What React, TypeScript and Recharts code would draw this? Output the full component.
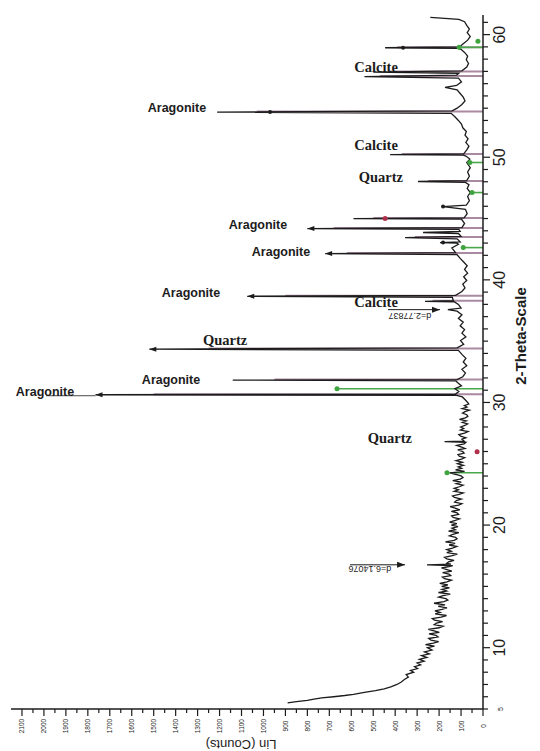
import { LineChart, Line, XAxis, YAxis, ReferenceLine, ReferenceDot } from 'recharts';

// 2-theta scan, low angle part (steep background)
const lowTheta = [5.5, 5.6, 5.7, 5.8, 5.9, 6.0, 6.1, 6.2, 6.35, 6.5, 6.65, 6.8, 7.0, 7.2, 7.4, 7.6, 7.8, 8.0, 8.15, 8.3, 8.45, 8.6, 8.75, 8.9, 9.05, 9.2, 9.35, 9.5, 9.65, 9.8];
const lowCounts = [890, 850, 800, 770, 735, 680, 630, 590, 540, 490, 450, 420, 392, 372, 358, 340, 350, 316, 330, 298, 312, 284, 300, 268, 290, 256, 280, 244, 266, 232];

// 10 - 30 degrees, noisy amorphous background
const midTheta = [
  10, 10.125, 10.25, 10.375, 10.5, 10.625, 10.75, 10.875,
  11, 11.125, 11.25, 11.375, 11.5, 11.625, 11.75, 11.875,
  12, 12.125, 12.25, 12.375, 12.5, 12.625, 12.75, 12.875,
  13, 13.125, 13.25, 13.375, 13.5, 13.625, 13.75, 13.875,
  14, 14.125, 14.25, 14.375, 14.5, 14.625, 14.75, 14.875,
  15, 15.125, 15.25, 15.375, 15.5, 15.625, 15.75, 15.875,
  16, 16.125, 16.25, 16.375, 16.5, 16.625, 16.7, 16.76, 16.82, 16.875,
  17, 17.125, 17.25, 17.375, 17.5, 17.625, 17.75, 17.875,
  18, 18.125, 18.25, 18.375, 18.5, 18.625, 18.75, 18.875,
  19, 19.125, 19.25, 19.375, 19.5, 19.625, 19.75, 19.875,
  20, 20.125, 20.25, 20.375, 20.5, 20.625, 20.75, 20.875,
  21, 21.125, 21.25, 21.375, 21.5, 21.625, 21.75, 21.875,
  22, 22.125, 22.25, 22.375, 22.5, 22.625, 22.75, 22.875,
  23, 23.125, 23.25, 23.375, 23.5, 23.625, 23.75, 23.875,
  24, 24.125, 24.25, 24.375, 24.5, 24.625, 24.75, 24.875,
  25, 25.125, 25.25, 25.375, 25.5, 25.625, 25.75, 25.875,
  26, 26.125, 26.25, 26.375, 26.5, 26.625, 26.75, 26.8, 26.85,
  27, 27.125, 27.25, 27.375, 27.5, 27.625, 27.75, 27.875,
  28, 28.125, 28.25, 28.375, 28.5, 28.625, 28.75, 28.875,
  29, 29.125, 29.25, 29.375, 29.5, 29.625, 29.75, 29.875,
  30,
];
const midCounts = [
  253, 221, 262, 226, 202, 237, 247, 205,
  214, 246, 199, 223, 249, 200, 182, 222,
  212, 184, 221, 231, 191, 166, 218, 195,
  219, 187, 164, 204, 173, 223, 178, 160,
  169, 202, 182, 149, 203, 166, 187, 153,
  188, 160, 197, 164, 144, 175, 185, 147,
  155, 184, 142, 164, 189, 150, 138, 255, 146, 165,
  157, 132, 165, 175, 140, 117, 165, 144,
  165, 139, 120, 154, 127, 171, 132, 118,
  125, 153, 137, 110, 157, 126, 141, 114,
  144, 119, 152, 126, 107, 136, 143, 111,
  118, 144, 106, 127, 150, 111, 96, 129,
  121, 99, 130, 139, 109, 90, 131, 112,
  131, 108, 91, 122, 99, 138, 104, 91,
  98, 122, 150, 84, 125, 97, 113, 89,
  116, 94, 123, 98, 83, 108, 114, 86,
  92, 115, 82, 100, 120, 86, 78, 175, 86,
  96, 78, 102, 110, 84, 68, 103, 88,
  102, 83, 70, 94, 76, 107, 80, 69,
  74, 93, 82, 62, 95, 73, 85, 65,
  70,
];

// 30 - 61.4 degrees, the crystalline peaks
const highTheta = [
  30.2, 30.45, 30.58, 30.63, 30.68, 30.9, 31.12, 31.35, 31.6, 31.77,
  31.82, 31.87, 32.1, 32.4, 32.7, 33.0, 33.3, 33.6, 33.9, 34.25,
  34.35, 34.45, 34.75, 35.05, 35.35, 35.65, 35.95, 36.25, 36.55, 36.85,
  37.15, 37.45, 37.57, 37.7, 38.0, 38.2, 38.25, 38.3, 38.58, 38.66,
  38.74, 39.05, 39.35, 39.65, 39.95, 40.25, 40.55, 40.85, 41.15, 41.45,
  41.75, 42.05, 42.14, 42.22, 42.6, 42.9, 43.0, 43.04, 43.1, 43.35,
  43.45, 43.55, 43.78, 43.86, 43.95, 44.12, 44.18, 44.26, 44.6, 44.9,
  44.96, 45.0, 45.06, 45.4, 45.75, 45.98, 46.1, 46.45, 46.8, 47.12,
  47.45, 47.75, 47.95, 48.02, 48.1, 48.45, 48.8, 49.15, 49.57, 49.85,
  50.1, 50.17, 50.22, 50.28, 50.6, 50.9, 51.2, 51.5, 51.8, 52.1,
  52.4, 52.7, 53.0, 53.3, 53.58, 53.68, 53.78, 54.0, 54.3, 54.6,
  54.9, 55.2, 55.5, 55.69, 55.85, 56.15, 56.45, 56.57, 56.7, 56.85,
  56.94, 57.05, 57.35, 57.65, 57.95, 58.25, 58.55, 58.8, 58.88, 58.93,
  58.99, 59.25, 59.55, 59.85, 60.15, 60.45, 60.75, 61.05, 61.25, 61.4,
];
const highCounts = [
  80, 94, 120, 1765, 125, 110, 128, 98, 115, 125,
  1140, 118, 92, 80, 96, 74, 90, 78, 95, 112,
  1520, 118, 88, 102, 78, 96, 84, 104, 90, 112,
  96, 118, 160, 100, 112, 130, 264, 135, 140, 1074,
  125, 96, 82, 92, 74, 88, 70, 84, 72, 88,
  104, 118, 719, 125, 142, 112, 120, 196, 104, 118,
  355, 100, 112, 273, 104, 110, 800, 96, 84, 96,
  100, 590, 86, 72, 80, 182, 76, 62, 70, 58,
  72, 64, 80, 296, 74, 62, 70, 58, 74, 60,
  78, 90, 423, 88, 74, 64, 78, 68, 82, 76,
  92, 98, 112, 128, 145, 1211, 140, 118, 96, 82,
  90, 104, 118, 173, 120, 98, 112, 540, 120, 110,
  500, 96, 74, 66, 76, 70, 84, 100, 112, 446,
  108, 90, 70, 58, 72, 62, 74, 84, 110, 240,
];

// reference pattern sticks
const pinkStickTheta = [30.68, 31.87, 34.4, 38.3, 38.71, 42.19, 43.5, 44.23, 45.05, 48.07, 50.27, 53.73, 56.62, 56.99, 58.98];
const pinkStickCounts = [1500, 950, 1250, 230, 900, 620, 310, 680, 500, 250, 370, 1030, 470, 430, 390];
const greenStickTheta = [24.27, 31.12, 42.63, 47.12, 49.57, 58.96];
const greenStickCounts = [164, 665, 90, 50, 60, 109];
const greenDotTheta = [24.27, 31.12, 42.63, 47.12, 49.57, 58.96, 59.45];
const greenDotCounts = [164, 665, 90, 50, 60, 109, 23];
const redDotTheta = [45.0, 25.98];
const redDotCounts = [446, 27];
const darkDotTheta = [58.93, 53.68, 45.98, 43.04];
const darkDotCounts = [364, 970, 182, 182];
const tipTheta = [30.63, 44.18, 42.14, 38.66, 34.35];
const tipCounts = [1765, 800, 719, 1074, 1520];

// phase names and where they sit (text centre, in data units)
const phaseNames = ['Calcite', 'Aragonite', 'Calcite', 'Quartz', 'Aragonite', 'Aragonite', 'Aragonite', 'Calcite', 'Quartz', 'Aragonite', 'Aragonite', 'Quartz'];
const phaseTheta = [57.33, 53.98, 50.96, 48.35, 44.51, 42.31, 38.96, 38.22, 35.12, 31.86, 30.88, 27.12];
const phaseCounts = [487, 1394, 487, 465, 1025, 920, 1330, 487, 1175, 1421, 1995, 424];

// d-spacing notes
const dNotes = ['d=2.77837', 'd=6.14076'];
const dTextTheta = [37.08, 16.43];
const dTextCounts = [333, 515];
const dArrowTheta = [37.57, 16.76];
const dArrowFrom = [433, 606];
const dArrowTo = [196, 355];

const countTicks = Array.from({ length: 43 }, (_, i) => i * 50);
const thetaTicks = Array.from({ length: 57 }, (_, i) => i + 5);

const scanTheta = [...lowTheta, ...midTheta, ...highTheta];
const scanCounts = [...lowCounts, ...midCounts, ...highCounts];
const scan = scanTheta.map((t, i) => ({ theta: t, counts: scanCounts[i] }));

const SANS = 'Liberation Sans, Arial, sans-serif';
const SERIF = 'Liberation Serif, Times New Roman, serif';
const INK = '#1c1c1c';

function CountTick(props: any) {
  const { x, y, payload } = props;
  const v = payload.value;
  const major = v % 100 === 0;
  const ty = y + 17;
  return (
    <g>
      <line x1={x} x2={x} y1={y} y2={y + (major ? 7 : 4)} stroke={INK} strokeWidth={1.2} />
      {major && (
        <text x={x} y={ty} transform={`rotate(-90 ${x} ${ty})`} textAnchor="middle" dominantBaseline="central" fontSize={6.5} fontFamily={SANS} fill={INK}>
          {v}
        </text>
      )}
    </g>
  );
}

function ThetaTick(props: any) {
  const { x, y, payload } = props;
  const v = payload.value;
  const major = v % 10 === 0;
  const tx = x + 17;
  return (
    <g>
      <line x1={x} x2={x + (major ? 7 : 5)} y1={y} y2={y} stroke={INK} strokeWidth={1.2} />
      {(major || v === 5) && (
        <text x={tx} y={y} transform={`rotate(-90 ${tx} ${y})`} textAnchor="middle" dominantBaseline="central" fontSize={v === 5 ? 7 : 16} fontFamily={SANS} fill={INK}>
          {v}
        </text>
      )}
    </g>
  );
}

function CountsTitle(props: any) {
  const vb = props.viewBox || { x: 11, y: 709, width: 472, height: 42 };
  const cx = vb.x + vb.width / 2 - 6;
  const cy = vb.y + 35;
  return (
    <text x={cx} y={cy} transform={`rotate(180 ${cx} ${cy})`} textAnchor="middle" dominantBaseline="central" fontSize={13} fontFamily={SANS} fill={INK}>
      Lin (Counts)
    </text>
  );
}

function ThetaTitle(props: any) {
  const vb = props.viewBox || { x: 483, y: 15, width: 57, height: 694 };
  const cx = vb.x + 37;
  const cy = vb.y + vb.height / 2 - 26;
  return (
    <text x={cx} y={cy} transform={`rotate(-90 ${cx} ${cy})`} textAnchor="middle" dominantBaseline="central" fontSize={15} fontWeight="bold" fontFamily={SANS} fill={INK}>
      2-Theta-Scale
    </text>
  );
}

export default function App() {
  return (
    <div style={{ position: 'absolute', left: 0, top: 0, width: 540, height: 751, background: '#fff' }}>
      <LineChart layout="vertical" width={540} height={751} data={scan} margin={{ top: 15, right: 0, bottom: 0, left: 11 }}>
        <XAxis
          type="number"
          dataKey="counts"
          domain={[0, 2150]}
          reversed
          ticks={countTicks}
          interval={0}
          tickSize={0}
          tickMargin={0}
          tickLine={false}
          tick={<CountTick />}
          height={42}
          axisLine={{ stroke: INK, strokeWidth: 1.5 }}
          label={<CountsTitle />}
        />
        <YAxis
          type="number"
          dataKey="theta"
          orientation="right"
          domain={[5, 61.6]}
          reversed
          ticks={thetaTicks}
          interval={0}
          tickSize={0}
          tickMargin={0}
          tickLine={false}
          tick={<ThetaTick />}
          width={57}
          axisLine={{ stroke: INK, strokeWidth: 1.5 }}
          label={<ThetaTitle />}
        />

        {pinkStickTheta.map((t, i) => (
          <ReferenceLine key={`p${i}`} segment={[{ x: 0, y: t }, { x: pinkStickCounts[i], y: t }]} stroke="#a98aa0" strokeWidth={2} />
        ))}
        {greenStickTheta.map((t, i) => (
          <ReferenceLine key={`g${i}`} segment={[{ x: 0, y: t }, { x: greenStickCounts[i], y: t }]} stroke="#4aa84a" strokeWidth={1.6} />
        ))}

        <Line type="linear" dataKey="counts" stroke={INK} strokeWidth={1.3} dot={false} isAnimationActive={false} />

        {greenDotTheta.map((t, i) => (
          <ReferenceDot key={`gd${i}`} x={greenDotCounts[i]} y={t} r={2.5} fill="#3fa33f" stroke="none" />
        ))}
        {redDotTheta.map((t, i) => (
          <ReferenceDot key={`rd${i}`} x={redDotCounts[i]} y={t} r={2.5} fill="#b0304a" stroke="none" />
        ))}
        {darkDotTheta.map((t, i) => (
          <ReferenceDot key={`dd${i}`} x={darkDotCounts[i]} y={t} r={2} fill={INK} stroke="none" />
        ))}
        {tipTheta.map((t, i) => (
          <ReferenceDot
            key={`tip${i}`}
            x={tipCounts[i]}
            y={t}
            r={3}
            shape={(p: any) => <path d={`M${p.cx} ${p.cy} L${p.cx + 7} ${p.cy - 2.5} L${p.cx + 7} ${p.cy + 2.5} Z`} fill={INK} />}
          />
        ))}

        {/* leader under the leftmost Aragonite label */}
        <ReferenceLine segment={[{ x: 1765, y: 30.55 }, { x: 1990, y: 30.55 }]} stroke={INK} strokeWidth={0.8} />

        {dNotes.map((n, i) => (
          <ReferenceLine key={`da${i}`} segment={[{ x: dArrowFrom[i], y: dArrowTheta[i] }, { x: dArrowTo[i], y: dArrowTheta[i] }]} stroke={INK} strokeWidth={1} />
        ))}
        {dNotes.map((n, i) => (
          <ReferenceDot
            key={`dh${i}`}
            x={dArrowTo[i]}
            y={dArrowTheta[i]}
            r={3}
            shape={(p: any) => <path d={`M${p.cx} ${p.cy} L${p.cx - 8} ${p.cy - 3} L${p.cx - 8} ${p.cy + 3} Z`} fill={INK} />}
          />
        ))}
        {dNotes.map((n, i) => (
          <ReferenceDot
            key={`dt${i}`}
            x={dTextCounts[i]}
            y={dTextTheta[i]}
            r={1}
            shape={(p: any) => (
              <text x={p.cx} y={p.cy} transform={`rotate(180 ${p.cx} ${p.cy})`} textAnchor="middle" dominantBaseline="central" fontSize={9} fontFamily={SANS} fill={INK}>
                {n}
              </text>
            )}
          />
        ))}

        {phaseNames.map((name, i) => (
          <ReferenceDot
            key={`ph${i}`}
            x={phaseCounts[i]}
            y={phaseTheta[i]}
            r={1}
            shape={(p: any) => (
              <text
                x={p.cx}
                y={p.cy}
                textAnchor="middle"
                dominantBaseline="central"
                fontSize={name === 'Aragonite' ? 12.5 : 14.5}
                fontWeight="bold"
                fontFamily={name === 'Aragonite' ? SANS : SERIF}
                fill={INK}
              >
                {name}
              </text>
            )}
          />
        ))}
      </LineChart>
    </div>
  );
}
